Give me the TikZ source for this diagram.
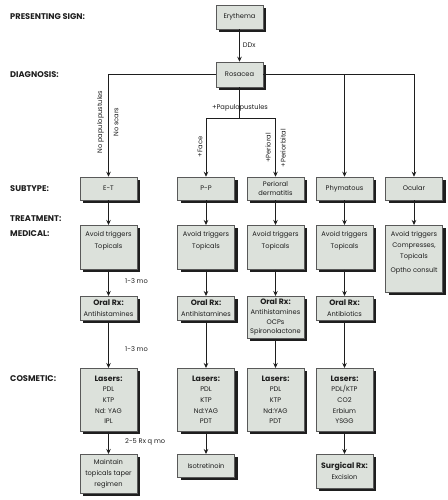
\documentclass[tikz,border=0pt]{standalone}
\usepackage{fontspec}
\setmainfont{Poppins}
\usetikzlibrary{shadows,arrows.meta}
\definecolor{boxfill}{HTML}{DCE1DB}
\definecolor{ink}{HTML}{1E1E1E}
\newcommand{\hd}[1]{{\fontsize{7.8}{10.75}\selectfont\bfseries #1}}
\begin{document}
\begin{tikzpicture}[x=1bp,y=-1bp,
  box/.style={draw=black!65, line width=0.5bp, fill=boxfill, minimum width=57bp, inner sep=0pt, align=center,
    font=\fontsize{6.7}{10.75}\selectfont, text=ink,
    drop shadow={shadow xshift=3bp, shadow yshift=-3bp, fill=ink, opacity=1}},
  txt/.style={inner sep=0pt, align=center, text=ink, font=\fontsize{6.7}{11.8}\selectfont},
  lab/.style={anchor=west, inner sep=0pt, text=ink, font=\fontsize{8.3}{9}\selectfont\bfseries},
  conn/.style={draw=ink, line width=0.8bp},
  arr/.style={conn, -{Stealth[length=5bp,width=4.5bp]}},
  clab/.style={inner sep=0pt, text=ink, font=\fontsize{6.7}{9}\selectfont},
]
\useasboundingbox (0,0) rectangle (448,500);

% row labels
\node[lab] (lps) at (10,17) {PRESENTING SIGN:};
\node[lab] (ldg) at (10,75) {DIAGNOSIS:};
\node[lab] (lst) at (10,189) {SUBTYPE:};
\node[lab] (ltr) at (10,219) {TREATMENT:};
\node[lab] (lmd) at (10,234) {MEDICAL:};
\node[lab] (lcs) at (10,379) {COSMETIC:};

% top
\node[box, minimum width=47bp, minimum height=24bp] (ery) at (239.5,17) {Erythema};
\node[box, minimum width=47bp, minimum height=25bp] (ros) at (239.5,74.5) {Rosacea};

% subtypes
\node[box, minimum height=23bp] (st1) at (108.5,188.5) {E-T};
\node[box, minimum height=23bp] (st2) at (206,188.5) {P-P};
\node[box, minimum height=23bp, font=\fontsize{6.7}{9.5}\selectfont] (st3) at (275.5,188.5) {Perioral\\dermatitis};
\node[box, minimum height=23bp] (st4) at (344.5,188.5) {Phymatous};
\node[box, minimum height=23bp] (st5) at (414,188.5) {Ocular};

% medical
\node[box, anchor=north, minimum height=44bp] (md1) at (108.5,225) {};
\node[box, anchor=north, minimum height=44bp] (md2) at (206,225) {};
\node[box, anchor=north, minimum height=44bp] (md3) at (275.5,225) {};
\node[box, anchor=north, minimum height=44bp] (md4) at (344.5,225) {};
\node[box, anchor=north, minimum height=67bp] (md5) at (414,225) {};
\node[txt, anchor=north] (tm1) at ([yshift=-6bp]md1.north) {Avoid triggers\\Topicals};
\node[txt, anchor=north] (tm2) at ([yshift=-6bp]md2.north) {Avoid triggers\\Topicals};
\node[txt, anchor=north] (tm3) at ([yshift=-6bp]md3.north) {Avoid triggers\\Topicals};
\node[txt, anchor=north] (tm4) at ([yshift=-6bp]md4.north) {Avoid triggers\\Topicals};
\node[txt, anchor=north, font=\fontsize{6.7}{11}\selectfont] (tm5) at ([yshift=-6bp]md5.north) {Avoid triggers\\Compresses,\\Topicals\\[3bp]Optho consult};

% oral
\node[box, anchor=north, minimum height=24bp] (or1) at (108.5,296) {\hd{Oral Rx:}\\Antihistamines};
\node[box, anchor=north, minimum height=24bp] (or2) at (206,296) {\hd{Oral Rx:}\\Antihistamines};
\node[box, anchor=north, minimum height=42bp, font=\fontsize{6.7}{9.8}\selectfont] (or3) at (275.5,296) {{\fontsize{7.8}{9.8}\selectfont\bfseries Oral Rx:}\\Antihistamines\\OCPs\\Spironolactone};
\node[box, anchor=north, minimum height=24bp] (or4) at (344.5,296) {\hd{Oral Rx:}\\Antibiotics};

% lasers
\node[box, anchor=north, minimum height=63bp] (ls1) at (108.5,368) {\hd{Lasers:}\\PDL\\KTP\\Nd: YAG\\IPL};
\node[box, anchor=north, minimum height=63bp] (ls2) at (206,368) {\hd{Lasers:}\\PDL\\KTP\\Nd:YAG\\PDT};
\node[box, anchor=north, minimum height=63bp] (ls3) at (275.5,368) {\hd{Lasers:}\\PDL\\KTP\\Nd:YAG\\PDT};
\node[box, anchor=north, minimum height=63bp] (ls4) at (344.5,368) {\hd{Lasers:}\\PDL/KTP\\CO2\\Erbium\\YSGG};

% final
\node[box, anchor=north, minimum height=39bp] (fn1) at (108.5,454) {Maintain\\topicals taper\\regimen};
\node[box, anchor=north, minimum height=23bp] (fn2) at (206,454) {Isotretinoin};
\node[box, anchor=north, minimum height=34bp] (fn4) at (344.5,454) {\hd{Surgical Rx:}\\Excision};

% connectors
\draw[arr] (ery) -- node[clab, right=3bp] (lddx) {DDx} (ros);
\draw[arr] (ros.west) -| (st1.north);
\draw[arr] (ros.east) -| (st4.north);
\draw[arr] (ros.east) -| (st5.north);
\coordinate (split) at (239.5,118);
\draw[conn] (ros.south) -- (split);
\draw[arr] (split) -| (st2.north);
\draw[arr] (split) -| (st3.north);

\node[clab] (lpp) at (240,108) {+Papulopustules};
\node[clab, rotate=90] (lnp) at (100.5,122) {No papulopustules};
\node[clab, rotate=90] (lns) at (116,122) {No scars};
\node[clab, rotate=90] (lfc) at (200,147) {+Face};
\node[clab, rotate=90] (lpo) at (268,148) {+Perioral};
\node[clab, rotate=90] (lpb) at (283,148) {+Periorbital};

\foreach \i in {1,...,5} {\draw[arr] (st\i) -- (md\i);}
\foreach \i in {1,...,4} {\draw[arr] (md\i) -- (or\i);}
\foreach \i in {1,...,4} {\draw[arr] (or\i) -- (ls\i);}
\draw[arr] (ls1) -- (fn1);
\draw[arr] (ls2) -- (fn2);
\draw[arr] (ls4) -- (fn4);

\node[clab, anchor=west] (l13a) at (125,281) {1-3 mo};
\node[clab, anchor=west] (l13b) at (125,349) {1-3 mo};
\node[clab, anchor=west] (l25) at (125,442) {2-5 Rx q mo};
\end{tikzpicture}
\end{document}
